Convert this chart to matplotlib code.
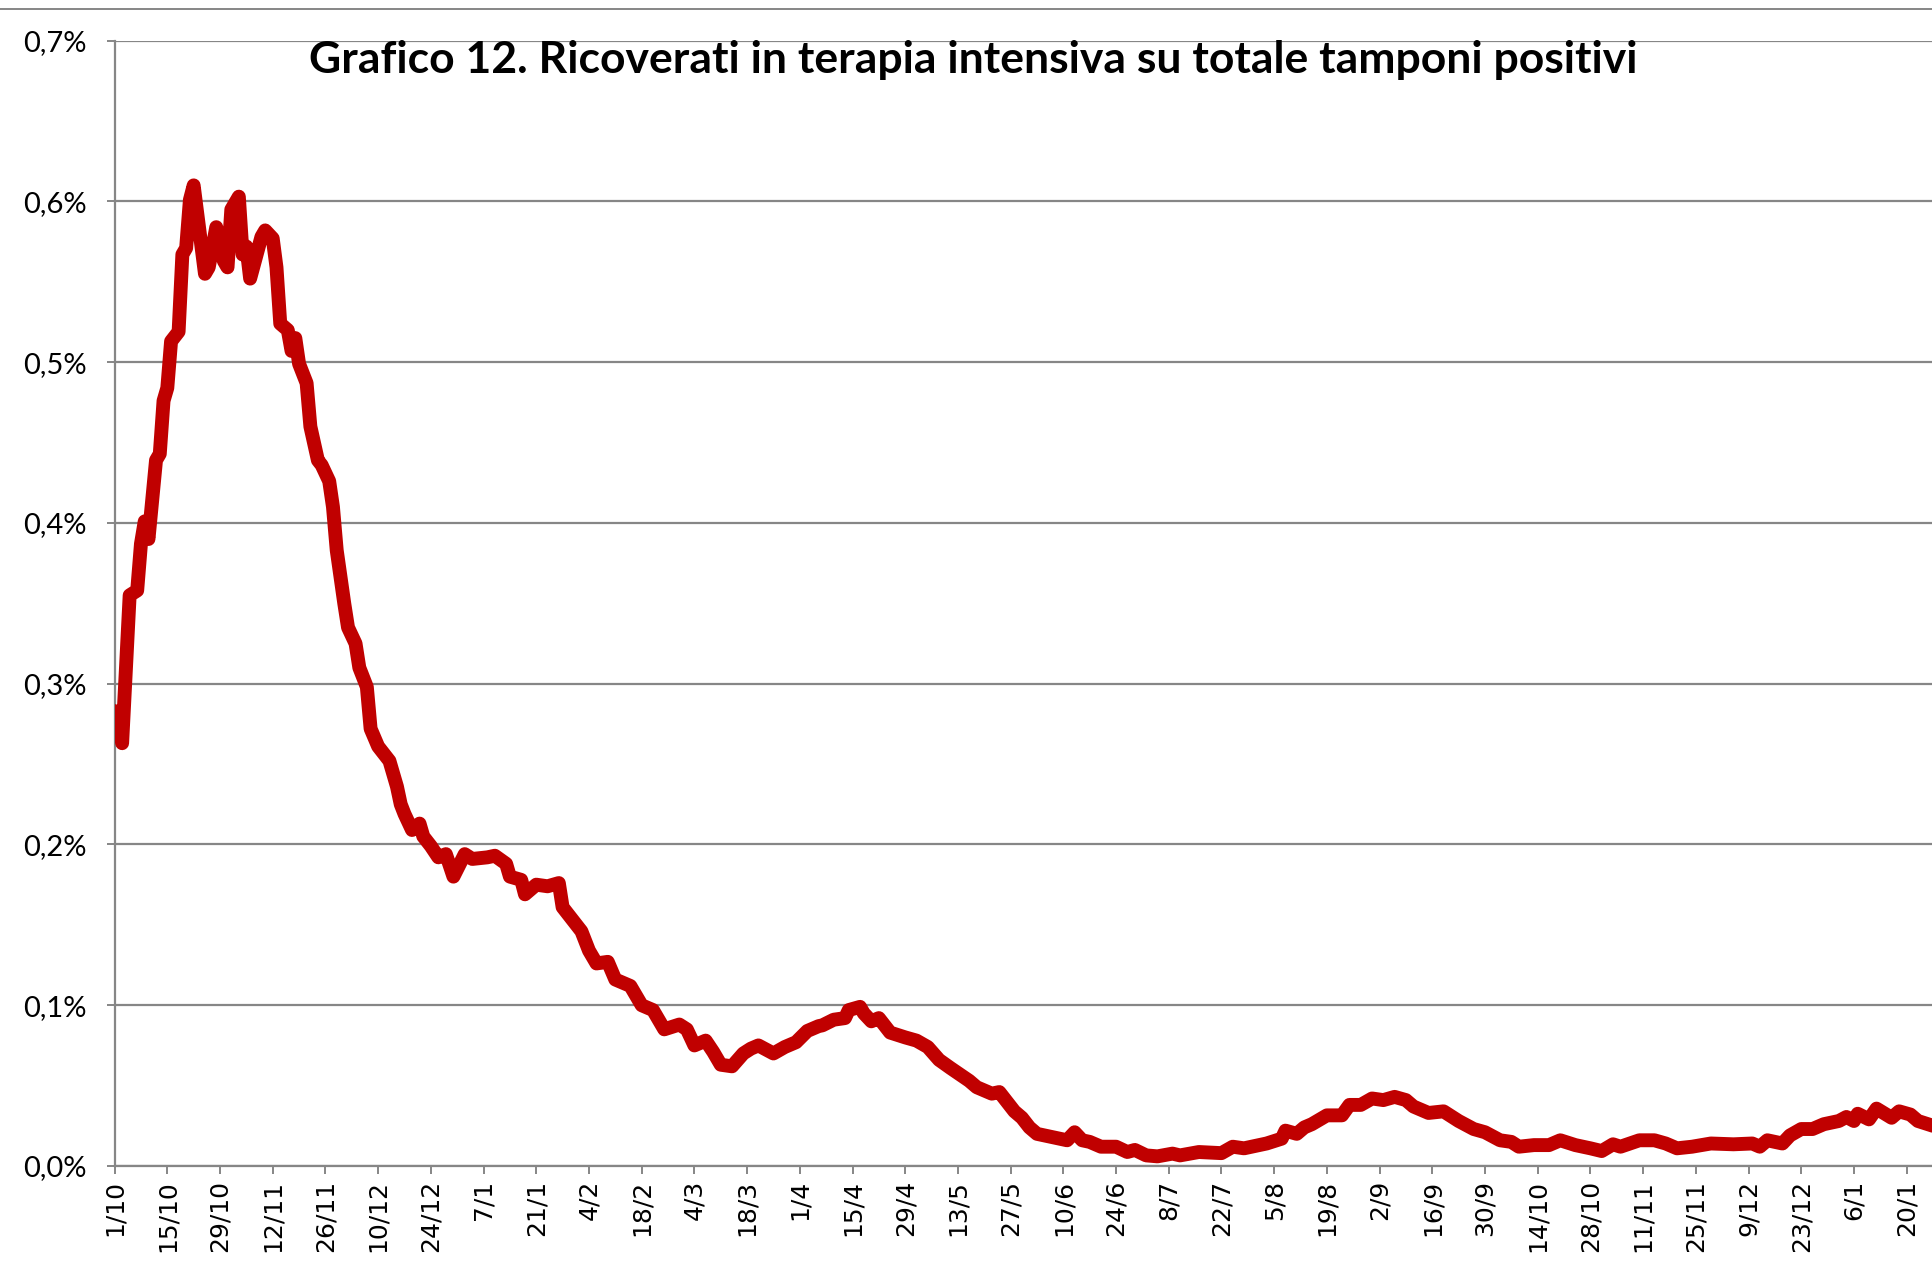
import numpy as np
import pandas as pd
import matplotlib
matplotlib.use("Agg")
import matplotlib.pyplot as plt
from matplotlib.lines import Line2D

# ---------------- data ----------------
start_date = "2020-10-01"
# day offsets from 1 Oct 2020 and ICU / positive ratio (%)
days = [0, 1, 2, 4, 6, 7, 8, 9, 11, 12, 13, 14, 15, 17, 18, 19, 20, 21, 24, 25,
        27, 29, 30, 31, 33, 34, 35, 36, 39, 40, 42, 43, 44, 46, 47, 48, 49, 51, 52, 54,
        55, 57, 58, 59, 61, 62, 64, 65, 67, 68, 70, 73, 75, 76, 77, 79, 81, 82, 84, 86,
        88, 90, 93, 95, 99, 101, 104, 105, 108, 109, 112, 115, 118, 119, 122, 124, 126, 128, 131, 133,
        137, 140, 143, 146, 150, 152, 154, 157, 159, 161, 164, 167, 169, 171, 175, 178, 181, 184, 187, 188,
        191, 194, 195, 198, 199, 201, 203, 206, 210, 213, 216, 219, 222, 227, 229, 233, 235, 239, 241, 243,
        245, 249, 253, 255, 257, 259, 262, 266, 269, 271, 274, 277, 281, 283, 288, 294, 297, 300, 306, 310,
        311, 314, 316, 318, 322, 326, 328, 331, 334, 337, 340, 343, 345, 349, 353, 357, 361, 364, 368, 371,
        373, 377, 381, 384, 388, 392, 395, 398, 400, 405, 409, 412, 415, 419, 424, 430, 435, 437, 439, 443,
        445, 448, 451, 454, 458, 460, 462, 463, 466, 468, 472, 474, 477, 479, 483]
values = [0.283, 0.277, 0.263, 0.355, 0.358, 0.387, 0.401, 0.390, 0.439, 0.443, 0.476, 0.484, 0.513, 0.519, 0.567, 0.571, 0.601, 0.610, 0.555, 0.559,
          0.584, 0.563, 0.559, 0.595, 0.603, 0.567, 0.572, 0.552, 0.578, 0.582, 0.577, 0.559, 0.524, 0.520, 0.507, 0.515, 0.499, 0.487, 0.460, 0.439,
          0.436, 0.426, 0.410, 0.383, 0.350, 0.335, 0.325, 0.310, 0.298, 0.272, 0.261, 0.252, 0.236, 0.225, 0.219, 0.209, 0.213, 0.205, 0.199, 0.192,
          0.194, 0.180, 0.194, 0.191, 0.192, 0.193, 0.188, 0.180, 0.178, 0.169, 0.175, 0.174, 0.176, 0.161, 0.152, 0.146, 0.134, 0.126, 0.127, 0.116,
          0.112, 0.100, 0.097, 0.085, 0.088, 0.085, 0.075, 0.078, 0.071, 0.063, 0.062, 0.070, 0.073, 0.075, 0.070, 0.074, 0.077, 0.084, 0.087, 0.0875,
          0.091, 0.092, 0.097, 0.099, 0.095, 0.090, 0.092, 0.083, 0.080, 0.078, 0.074, 0.066, 0.061, 0.053, 0.049, 0.045, 0.046, 0.034, 0.030, 0.024,
          0.020, 0.018, 0.016, 0.021, 0.016, 0.015, 0.012, 0.012, 0.0087, 0.010, 0.0066, 0.006, 0.0077, 0.0066, 0.0087, 0.008, 0.012, 0.011, 0.014, 0.017,
          0.022, 0.020, 0.024, 0.026, 0.0315, 0.0315, 0.038, 0.038, 0.042, 0.041, 0.043, 0.041, 0.037, 0.033, 0.034, 0.028, 0.023, 0.021, 0.016, 0.015,
          0.012, 0.013, 0.013, 0.016, 0.013, 0.011, 0.0093, 0.0135, 0.012, 0.016, 0.016, 0.014, 0.011, 0.012, 0.014, 0.0135, 0.014, 0.012, 0.016, 0.014,
          0.019, 0.023, 0.023, 0.026, 0.028, 0.0305, 0.028, 0.0325, 0.029, 0.0357, 0.030, 0.034, 0.032, 0.028, 0.025]

tick_labels = ["1/10", "15/10", "29/10", "12/11", "26/11", "10/12", "24/12", "7/1", "21/1",
               "4/2", "18/2", "4/3", "18/3", "1/4", "15/4", "29/4", "13/5", "27/5", "10/6",
               "24/6", "8/7", "22/7", "5/8", "19/8", "2/9", "16/9", "30/9", "14/10", "28/10",
               "11/11", "25/11", "9/12", "23/12", "6/1", "20/1"]
y_ticks = [0.0, 0.1, 0.2, 0.3, 0.4, 0.5, 0.6, 0.7]
y_labels = ["0,0%", "0,1%", "0,2%", "0,3%", "0,4%", "0,5%", "0,6%", "0,7%"]
title = "Grafico 12. Ricoverati in terapia intensiva su totale tamponi positivi"

# ---------------- plot ----------------
W, H = 1933, 1277
fig = plt.figure(figsize=(W / 100, H / 100), dpi=100)
ax = fig.add_axes([114.6 / W, (H - 1166) / H, (W - 114.6) / W, (1166 - 40.7) / H])

t0 = pd.Timestamp(start_date)
dates = t0 + pd.to_timedelta(days, unit="D")
ax.plot(dates, values, color="#C00000", lw=10, solid_joinstyle="round",
        solid_capstyle="round", zorder=3)

grid_c = "#868686"
tick_dates = pd.date_range(t0, periods=len(tick_labels), freq="14D")
ax.set_xticks(tick_dates)
ax.set_xticklabels(tick_labels, rotation=90, fontsize=18, family="DejaVu Sans")
ax.set_xlim(t0, t0 + pd.Timedelta(days=483))

ax.set_yticks(y_ticks)
ax.set_yticklabels(y_labels, fontsize=21, family="Lato")
ax.set_ylim(0, 0.7)

ax.yaxis.grid(True, color=grid_c, lw=1.6)
ax.set_axisbelow(True)
for s in ["top", "right"]:
    ax.spines[s].set_visible(False)
for s in ["left", "bottom"]:
    ax.spines[s].set_color(grid_c)
    ax.spines[s].set_linewidth(1.6)
ax.tick_params(axis="x", direction="out", length=6, width=1.4, color=grid_c, pad=4)
ax.tick_params(axis="y", direction="out", length=6, width=1.4, color=grid_c, pad=14)

fig.text(973 / W, 1 - 60 / H, title, ha="center", va="center",
         fontsize=32, fontweight="bold", family="Lato")

# chart-area border line at top
fig.add_artist(Line2D([0, 1], [1 - 8.6 / H, 1 - 8.6 / H], transform=fig.transFigure,
                      color=grid_c, lw=1.4))

fig.savefig("out.png", dpi=100)
